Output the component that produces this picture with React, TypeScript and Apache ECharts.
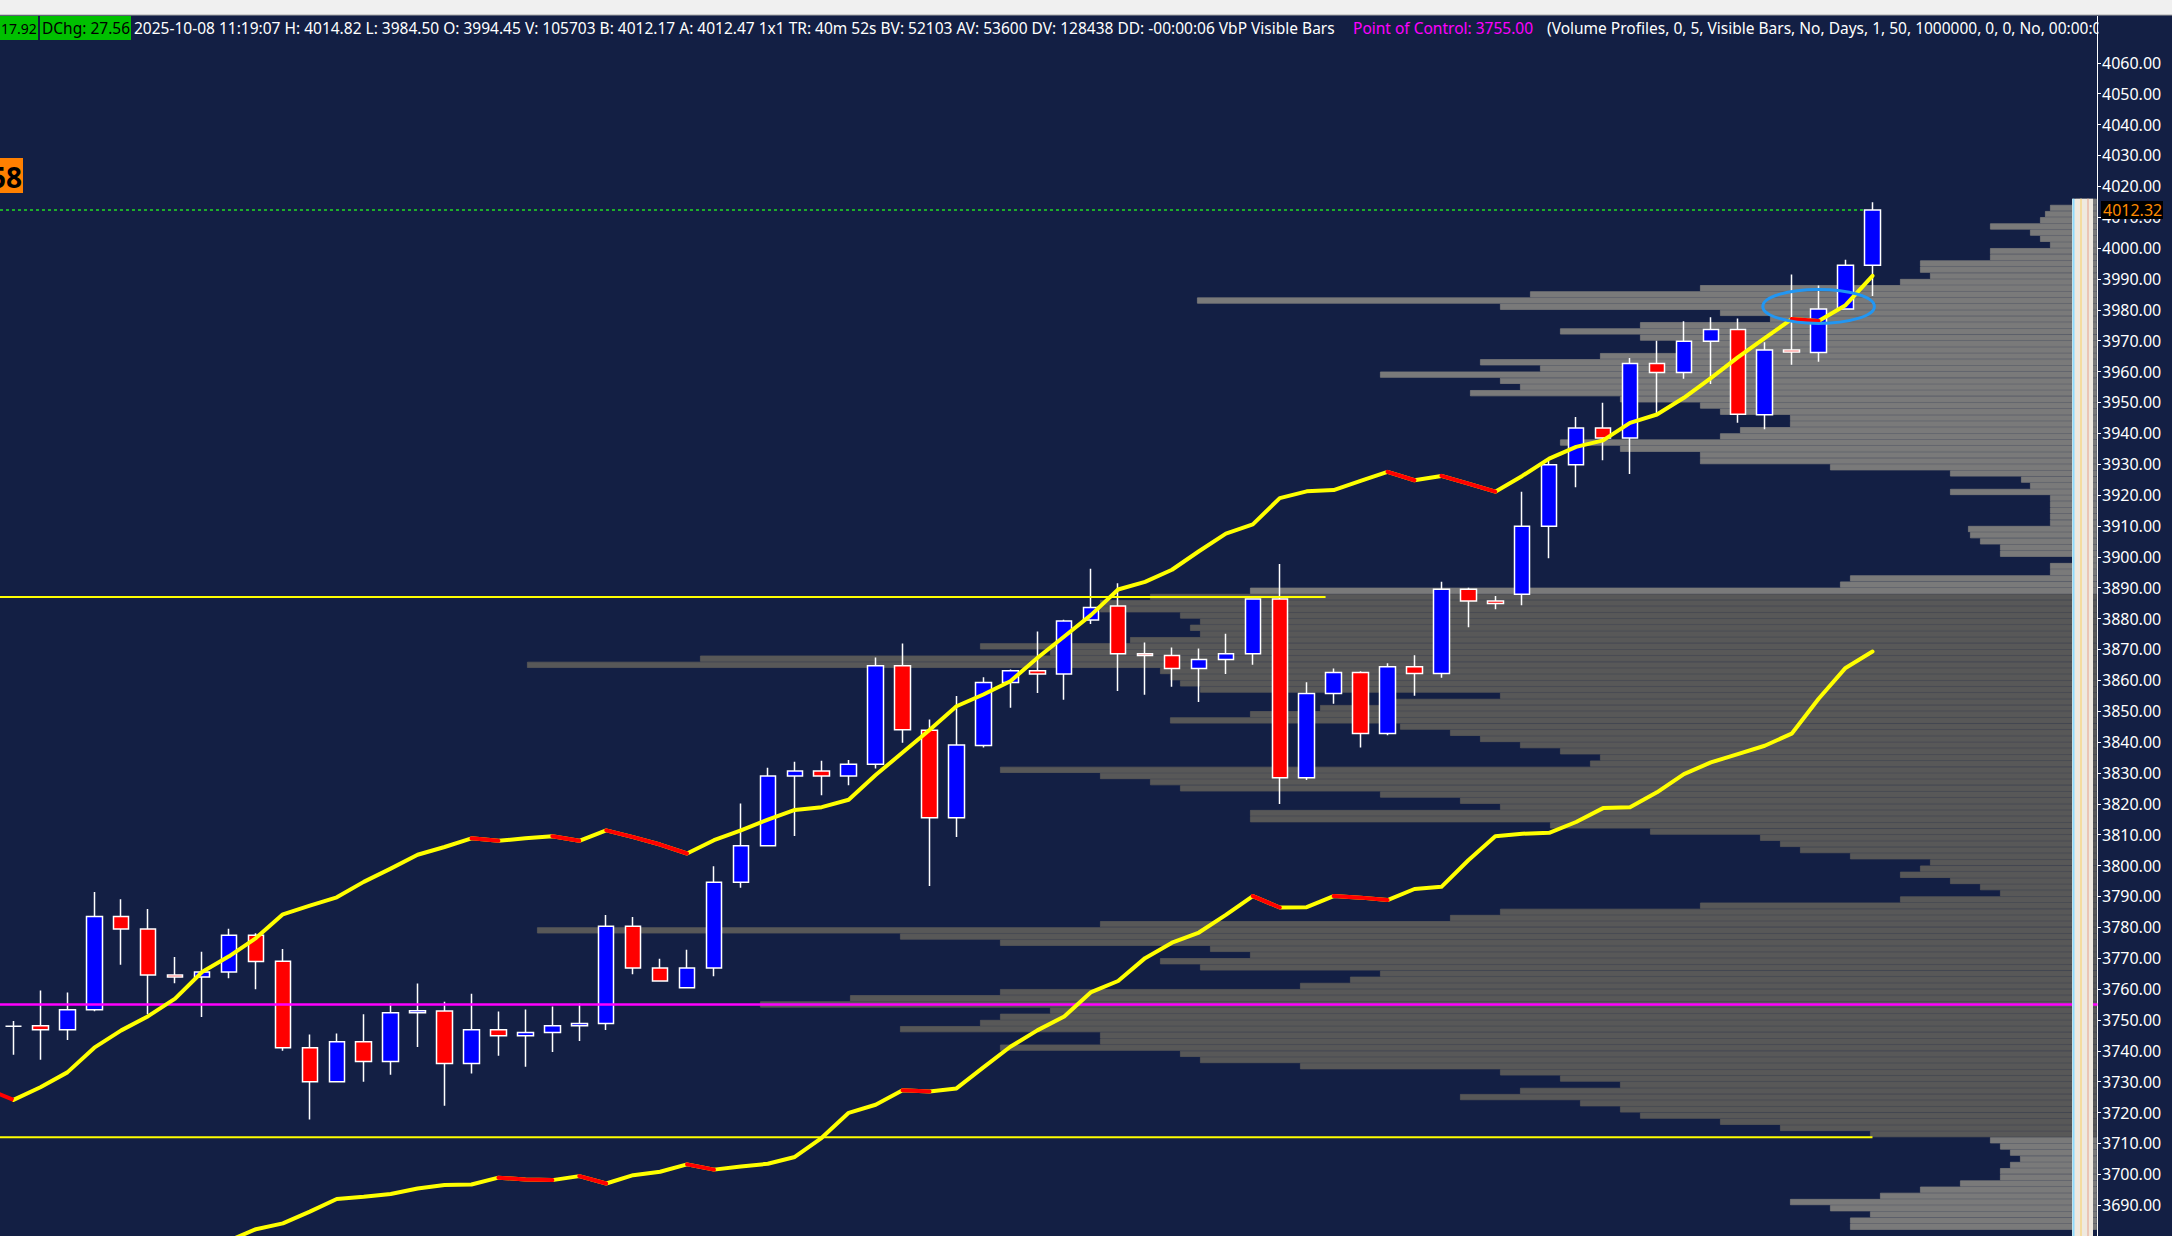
import React, { useEffect, useRef } from "react";
import * as echarts from "echarts";

// ---------- DATA ----------
// candles: [open, close, low, high]
const candleOpen = [3747.9, 3748.1, 3746.8, 3753.3, 3783.5, 3779.4, 3764.5, 3763.9, 3765.5, 3777.4,
  3769.0, 3741.0, 3730.0, 3742.9, 3736.5, 3752.3, 3752.9, 3735.9, 3746.8, 3744.9,
  3745.9, 3748.1, 3748.8, 3780.3, 3766.8, 3760.4, 3766.8, 3794.6, 3806.4, 3829.0,
  3830.6, 3829.0, 3832.8, 3864.7, 3843.8, 3815.5, 3838.9, 3859.3, 3863.1, 3862.0,
  3879.5, 3884.1, 3868.6, 3868.0, 3863.8, 3866.7, 3868.6, 3886.3, 3828.4, 3855.7,
  3862.5, 3842.8, 3864.4, 3862.2, 3889.5, 3885.7, 3887.9, 3909.9, 3929.8, 3941.7,
  3938.5, 3962.6, 3959.7, 3969.8, 3973.6, 3946.0, 3967.0, 3966.2, 3980.3, 3994.45];
const candleClose = [3747.9, 3746.8, 3753.3, 3783.5, 3779.4, 3764.5, 3763.9, 3765.5, 3777.4, 3768.9,
  3741.0, 3730.0, 3742.9, 3736.5, 3752.3, 3753.0, 3735.9, 3746.8, 3744.9, 3745.9,
  3748.1, 3748.8, 3780.3, 3766.8, 3762.6, 3766.8, 3794.6, 3806.4, 3829.0, 3830.6,
  3829.0, 3832.8, 3864.7, 3844.0, 3815.5, 3839.0, 3859.3, 3863.1, 3862.0, 3879.2,
  3883.6, 3868.6, 3868.0, 3863.8, 3866.7, 3868.6, 3886.3, 3828.4, 3855.7, 3862.5,
  3842.8, 3864.4, 3862.2, 3889.5, 3885.7, 3884.9, 3909.9, 3929.8, 3941.7, 3938.5,
  3962.6, 3959.7, 3969.8, 3973.6, 3946.2, 3967.0, 3966.3, 3980.3, 3994.4, 4012.32];
const candleLow = [3738.7, 3737.1, 3743.5, 3752.8, 3767.9, 3751.8, 3761.9, 3750.9, 3763.5, 3759.9,
  3740.0, 3717.7, 3730.0, 3730.0, 3732.2, 3741.2, 3722.2, 3732.6, 3738.4, 3734.8,
  3739.6, 3743.2, 3746.7, 3764.8, 3762.6, 3760.4, 3764.1, 3792.8, 3806.4, 3809.6,
  3822.8, 3826.0, 3831.4, 3839.8, 3793.4, 3809.2, 3838.2, 3851.1, 3855.9, 3853.7,
  3878.2, 3856.5, 3855.3, 3857.9, 3853.0, 3862.0, 3865.0, 3819.9, 3827.7, 3852.4,
  3838.2, 3842.2, 3855.0, 3860.8, 3877.2, 3883.0, 3884.3, 3899.5, 3922.5, 3931.3,
  3926.8, 3946.1, 3957.7, 3956.0, 3943.4, 3941.3, 3962.2, 3963.2, 3980.3, 3984.50];
const candleHigh = [3749.6, 3759.5, 3758.9, 3791.4, 3789.1, 3785.9, 3770.4, 3772.1, 3779.5, 3778.1,
  3773.0, 3745.3, 3745.6, 3751.8, 3755.3, 3761.8, 3755.9, 3758.5, 3752.7, 3753.4,
  3754.3, 3755.3, 3784.0, 3783.3, 3769.8, 3772.7, 3799.8, 3820.1, 3831.7, 3833.6,
  3833.9, 3834.2, 3867.4, 3871.9, 3847.3, 3854.9, 3861.0, 3863.5, 3875.8, 3879.6,
  3896.1, 3891.4, 3872.2, 3870.6, 3870.3, 3875.1, 3886.5, 3897.7, 3859.4, 3863.8,
  3862.9, 3865.5, 3868.1, 3891.9, 3890.0, 3887.3, 3921.1, 3931.5, 3945.3, 3949.9,
  3964.4, 3970.0, 3976.3, 3977.6, 3977.2, 3969.5, 3991.4, 3987.9, 3996.2, 4014.82];

// fast and slow averages (drawn red where falling)
const fastAvgPrevBar = 3727.6; // value one bar before the first visible bar
const fastAvg: (number | null)[] = [3724.1, 3728.2, 3733.0, 3741.0, 3746.6, 3751.2, 3756.9, 3765.5, 3770.6, 3776.5,
  3784.2, 3787.0, 3789.7, 3794.7, 3799.0, 3803.5, 3806.0, 3808.8, 3808.0, 3808.8,
  3809.5, 3808.0, 3811.4, 3809.2, 3806.8, 3803.9, 3808.2, 3811.4, 3814.9, 3818.0,
  3818.9, 3821.3, 3829.3, 3836.6, 3843.9, 3851.6, 3855.4, 3859.7, 3867.2, 3874.2,
  3881.2, 3889.4, 3891.9, 3895.8, 3901.8, 3907.5, 3910.5, 3919.0, 3921.2, 3921.6,
  3924.6, 3927.5, 3924.8, 3926.2, 3923.7, 3921.1, 3926.2, 3931.8, 3935.6, 3937.7,
  3943.4, 3946.1, 3951.5, 3957.9, 3964.6, 3970.8, 3977.0, 3976.4, 3981.5, 3991.0];
const slowAvg: (number | null)[] = [null, null, null, null, null, null, null, null, 3678.5, 3682.2,
  3684.1, 3687.9, 3692.0, 3692.7, 3693.6, 3695.4, 3696.5, 3696.7, 3698.9, 3698.3,
  3698.1, 3699.4, 3697.0, 3699.7, 3700.8, 3703.2, 3701.5, 3702.5, 3703.4, 3705.6,
  3711.8, 3719.9, 3722.5, 3727.2, 3726.8, 3727.8, 3734.6, 3741.3, 3746.6, 3751.1,
  3759.0, 3762.6, 3770.0, 3775.0, 3778.3, 3784.0, 3790.1, 3786.4, 3786.5, 3790.1,
  3789.6, 3788.8, 3792.4, 3793.1, 3801.7, 3809.5, 3810.3, 3810.6, 3814.1, 3818.6,
  3818.9, 3823.7, 3829.6, 3833.4, 3836.1, 3838.8, 3842.7, 3854.0, 3864.0, 3869.3];

// volume profile: 2-point price bins starting at profileStart
const profileStart = 3682;
const profileStep = 2;
const profileVolume = [
  247, 247, 227, 267, 307, 217, 177, 137, 97, 97, 87, 77, 87, 97, 107, // 3682-3710
  227, 317, 377, 457, 477, 517, 637, 577, 477, 537, 597, 797, 897, 917, 1097, // 3712-3740
  997, 997, 1197, 1117, 1097, 1047, 1337, 1247, 1097, 797, 747, 717, 897, 937, 847, // 3742-3770
  887, 1097, 1197, 1560, 997, 647, 597, 397, 197, 97, 117, 147, 197, 177, 167, // 3772-3800
  247, 297, 317, 337, 447, 547, 847, 847, 597, 637, 717, 917, 947, 997, 1097, // 3802-3830
  507, 497, 537, 577, 617, 647, 697, 927, 847, 777, 717, 597, 897, 917, 927, // 3832-3860
  937, 1570, 1397, 1047, 1117, 967, 897, 907, 897, 917, 997, 997, 947, 847, 257, // 3862-3890
  247, 47, 47, 17, 97, 97, 117, 127, 129, 47, 47, 47, 47, 47, 147, // 3892-3920
  67, 76, 147, 267, 397, 397, 477, 537, 377, 357, 307, 307, 377, 397, 477, // 3922-3950
  627, 577, 597, 717, 557, 617, 497, 417, 417, 457, 537, 457, 327, 377, 597, // 3952-3980
  900, 567, 397, 197, 167, 177, 177, 107, 107, 47, 57, 67, 107, 57, 52, // 3982-4010
  47, 22 // 4012-4014
];

const valueAreaHigh = 3887;
const valueAreaLow = 3712;
const pointOfControl = 3755.0;
const lastPrice = 4012.32;
// bar positions where the horizontal reference lines end
const vahEndBar = 48.7;
const valEndBar = 69.0;
const lastPriceEndBar = 68.65;

const axisMin = 3680;
const axisMax = 4070;
const axisStep = 10;

const headerMain =
  "2025-10-08 11:19:07 H: 4014.82 L: 3984.50 O: 3994.45 V: 105703 B: 4012.17 A: 4012.47 1x1 TR: 40m 52s BV: 52103 AV: 53600 DV: 128438 DD: -00:00:06 VbP Visible Bars";
const headerPoc = "Point of Control: 3755.00";
const headerStudy = "(Volume Profiles, 0, 5, Visible Bars, No, Days, 1, 50, 1000000, 0, 0, No, 00:00:00";

// ---------- CHART ----------
const BG = "#131f44";
const FONT = "Noto Sans";
const NCAT = 78;

function declineRuns(vals: (number | null)[]) {
  const runs: (number | null)[][] = [];
  let cur: (number | null)[] | null = null;
  for (let i = 0; i < vals.length - 1; i++) {
    const a = vals[i], b = vals[i + 1];
    if (a != null && b != null && b < a) {
      if (!cur) {
        cur = new Array(vals.length).fill(null);
        runs.push(cur);
        cur[i] = a;
      }
      cur[i + 1] = b;
    } else cur = null;
  }
  return runs;
}

export default function App() {
  const ref = useRef<HTMLDivElement>(null);
  useEffect(() => {
    const el = ref.current!;
    const chart = echarts.init(el, undefined, { renderer: "svg" });

    const cats = Array.from({ length: NCAT }, (_, i) => String(i));
    const candleData = candleOpen.map((o, i) => [o, candleClose[i], candleLow[i], candleHigh[i]]);

    const binCount = Math.round((axisMax - axisMin) / profileStep);
    const binCats: string[] = [];
    const binData: any[] = [];
    for (let k = 0; k < binCount; k++) {
      const s = axisMin + k * profileStep;
      binCats.push(String(s));
      const idx = Math.round((s - profileStart) / profileStep);
      const v = idx >= 0 && idx < profileVolume.length ? profileVolume[idx] : 0;
      const inVA = s >= valueAreaLow && s < valueAreaHigh;
      const col = inVA ? "#585858" : "#7a7a7a";
      binData.push({ value: v, itemStyle: { color: col, borderColor: col, borderWidth: v > 0 ? 0.8 : 0 } });
    }

    const lineSeries = (data: (number | null)[], color: string, z: number) => ({
      type: "line",
      xAxisIndex: 0,
      yAxisIndex: 0,
      data,
      symbol: "none",
      silent: true,
      connectNulls: false,
      lineStyle: { color, width: 4, cap: "round", join: "round" },
      z,
    });

    const hLine = (price: number, x0: number, x1: number, color: string, width: number, type: any = "solid") => ({
      type: "line",
      xAxisIndex: 1,
      yAxisIndex: 0,
      data: [[x0, price], [x1, price]],
      symbol: "none",
      silent: true,
      lineStyle: { color, width, type },
      z: 6,
    });

    const series: any[] = [
      {
        type: "bar",
        xAxisIndex: 2,
        yAxisIndex: 1,
        data: binData,
        barCategoryGap: "0%",
        silent: true,
        z: 1,
      },
      hLine(valueAreaHigh, -0.5, vahEndBar, "#ffff00", 2),
      hLine(valueAreaLow, -0.5, valEndBar, "#ffff00", 2),
      hLine(pointOfControl, -0.5, 77.35, "#ff00ff", 2.5),
      hLine(lastPrice, -0.5, lastPriceEndBar, "#22dd22", 1.5, [3, 3]),
      {
        type: "candlestick",
        xAxisIndex: 0,
        yAxisIndex: 0,
        data: candleData,
        barWidth: 16,
        silent: true,
        itemStyle: {
          color: "#0000ff",
          color0: "#ff0000",
          borderColor: "#ffffff",
          borderColor0: "#ffffff",
          borderColorDoji: "#ffffff",
          borderWidth: 1.5,
        },
        z: 5,
      },
      lineSeries(fastAvg, "#ffff00", 8),
      lineSeries(slowAvg, "#ffff00", 8),
      ...declineRuns(fastAvg).map((r) => lineSeries(r, "#ff0000", 9)),
      ...declineRuns(slowAvg).map((r) => lineSeries(r, "#ff0000", 9)),
      {
        type: "line",
        xAxisIndex: 1,
        yAxisIndex: 0,
        data: [[-1, fastAvgPrevBar], [0, fastAvg[0]]],
        symbol: "none",
        silent: true,
        lineStyle: { color: fastAvgPrevBar > (fastAvg[0] as number) ? "#ff0000" : "#ffff00", width: 4 },
        z: 9,
      },
    ];

    const hidden = { show: false, axisLine: { show: false, onZero: false } };

    const option: any = {
      animation: false,
      backgroundColor: BG,
      grid: [
        { left: -4.5, width: NCAT * 27, top: 31.95, bottom: -6.9, containLabel: false },
        { left: 0, right: 75, top: 31.95, bottom: -6.9, containLabel: false },
      ],
      xAxis: [
        { type: "category", gridIndex: 0, data: cats, boundaryGap: true, ...hidden },
        { type: "value", gridIndex: 0, min: -0.5, max: NCAT - 0.5, ...hidden },
        { type: "value", gridIndex: 1, min: 0, max: 2097, inverse: true, ...hidden },
      ],
      yAxis: [
        {
          type: "value",
          gridIndex: 0,
          position: "right",
          offset: -4.5,
          min: axisMin,
          max: axisMax,
          interval: axisStep,
          axisLine: { show: true, onZero: false, lineStyle: { color: "#ffffff", width: 1 } },
          axisTick: { show: true, length: 4, lineStyle: { color: "#ffffff" } },
          axisLabel: {
            color: "#ffffff",
            fontSize: 16,
            fontFamily: FONT,
            margin: 5,
            formatter: (v: number) => (v > axisMax - 5 || v < axisMin + 5 ? "" : v.toFixed(2)),
          },
          splitLine: { show: false },
        },
        { type: "category", gridIndex: 1, data: binCats, boundaryGap: true, ...hidden },
      ],
      series,
    };
    chart.setOption(option);

    const px = (bar: number, price: number) =>
      chart.convertToPixel({ xAxisIndex: 1, yAxisIndex: 0 } as any, [bar, price]) as number[];

    const ell = px(67, 3981.1);
    const ellR = px(69.07, 3986.6);
    const lp = px(0, lastPrice);
    const box = px(0, 4023.5);
    const stripTop = px(0, 4016);

    const graphic: any[] = [
      // noise strip of the profile
      { type: "rect", shape: { x: 2072, y: stripTop[1], width: 21, height: 1236 - stripTop[1] }, style: { fill: "#efe9df" }, z: 20, silent: true },
      { type: "line", shape: { x1: 2073.5, y1: stripTop[1], x2: 2073.5, y2: 1236 }, style: { stroke: "#8fdcff", lineWidth: 2 }, z: 21, silent: true },
      { type: "line", shape: { x1: 2081, y1: stripTop[1], x2: 2081, y2: 1236 }, style: { stroke: "#f4dca0", lineWidth: 2 }, z: 21, silent: true },
      { type: "line", shape: { x1: 2088, y1: stripTop[1], x2: 2088, y2: 1236 }, style: { stroke: "#e8b8a8", lineWidth: 1.5 }, z: 21, silent: true },
      // ellipse annotation
      {
        type: "ellipse",
        shape: { cx: ell[0], cy: ell[1], rx: Math.abs(ellR[0] - ell[0]), ry: Math.abs(ellR[1] - ell[1]) },
        style: { fill: "none", stroke: "#2196f3", lineWidth: 3 },
        z: 30,
        silent: true,
      },
      // last price tag on axis
      { type: "rect", shape: { x: 2101, y: lp[1] - 9, width: 62, height: 18 }, style: { fill: "#000000" }, z: 30, silent: true },
      {
        type: "text", x: 2103, y: lp[1],
        style: { text: lastPrice.toFixed(2), fill: "#ff8a00", font: `16px "${FONT}"`, verticalAlign: "middle", align: "left" },
        z: 31, silent: true,
      },
      // orange clipped label at left
      { type: "rect", shape: { x: 0, y: box[1] - 17.5, width: 23, height: 35 }, style: { fill: "#ff8000" }, z: 30, silent: true },
      {
        type: "text", x: 22, y: box[1] + 1,
        style: { text: "58", fill: "#000000", font: `bold 28px "${FONT}"`, verticalAlign: "middle", align: "right" },
        z: 31, silent: true,
      },
      // header
      { type: "rect", shape: { x: 0, y: 0, width: 2172, height: 15 }, style: { fill: "#f0f0f0" }, z: 40, silent: true },
      { type: "line", shape: { x1: 0, y1: 15, x2: 2172, y2: 15 }, style: { stroke: "#a8a8a8", lineWidth: 1 }, z: 41, silent: true },
      { type: "rect", shape: { x: 0, y: 16, width: 38, height: 24 }, style: { fill: "#00c000" }, z: 40, silent: true },
      { type: "rect", shape: { x: 40, y: 16, width: 91, height: 24 }, style: { fill: "#00c000" }, z: 40, silent: true },
      {
        type: "text", x: 1, y: 28,
        style: { text: "17.92", fill: "#000000", font: `14px "${FONT}"`, verticalAlign: "middle", align: "left" },
        z: 42, silent: true,
      },
      {
        type: "text", x: 42, y: 28,
        style: { text: "DChg: 27.56", fill: "#000000", font: `15.5px "${FONT}"`, verticalAlign: "middle", align: "left" },
        z: 42, silent: true,
      },
      {
        type: "text", x: 134, y: 28,
        style: { text: headerMain, fill: "#ffffff", font: `15.5px "${FONT}"`, verticalAlign: "middle", align: "left" },
        z: 42, silent: true,
      },
      {
        type: "text", x: 1353, y: 28,
        style: { text: headerPoc, fill: "#ff00ff", font: `15.5px "${FONT}"`, verticalAlign: "middle", align: "left" },
        z: 42, silent: true,
      },
      {
        type: "text", x: 1547, y: 28,
        style: { text: headerStudy, fill: "#ffffff", font: `15.5px "${FONT}"`, verticalAlign: "middle", align: "left" },
        z: 42, silent: true,
      },
      { type: "rect", shape: { x: 2098.5, y: 16, width: 74, height: 24 }, style: { fill: BG }, z: 43, silent: true },
      { type: "line", shape: { x1: 2097.5, y1: 16, x2: 2097.5, y2: 40 }, style: { stroke: "#ffffff", lineWidth: 1 }, z: 44, silent: true },
    ];
    chart.setOption({ graphic });

    return () => chart.dispose();
  }, []);

  return (
    <div
      ref={ref}
      style={{ position: "fixed", left: 0, top: 0, width: 2172, height: 1236, background: BG }}
    />
  );
}
